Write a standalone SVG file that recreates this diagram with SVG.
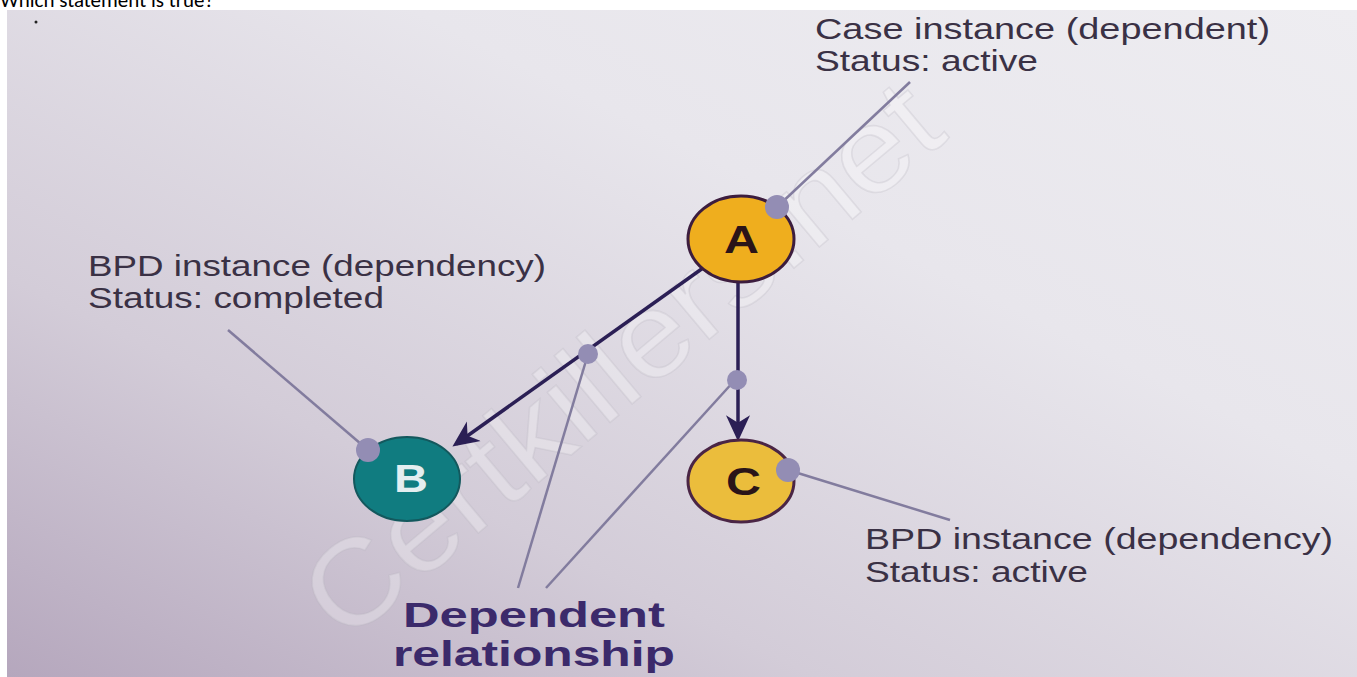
<svg xmlns="http://www.w3.org/2000/svg" width="1357" height="677" viewBox="0 0 1357 677">
  <defs>
    <linearGradient id="bg" x1="0" y1="1" x2="1" y2="0">
      <stop offset="0" stop-color="#b5a7bd"/>
      <stop offset="0.3" stop-color="#d3ccd8"/>
      <stop offset="0.65" stop-color="#e8e6ec"/>
      <stop offset="1" stop-color="#eeedf1"/>
    </linearGradient>
    <marker id="arr" viewBox="0 0 12 12" refX="10" refY="6" markerWidth="7.5" markerHeight="7.5" orient="auto" markerUnits="strokeWidth">
      <path d="M0,0.5 L12,6 L0,11.5 L3.5,6 Z" fill="#2b1f55"/>
    </marker>
    <style>
      .lbl { font-family: "Liberation Sans", Arial, sans-serif; font-size: 30px; fill: #3a3145; }
      .dep { font-family: "Liberation Sans", Arial, sans-serif; font-size: 35px; font-weight: bold; fill: #3b2a6b; }
      .lead { stroke: #827c9e; stroke-width: 2.5; fill: none; }
      .conn { stroke: #2b1f55; stroke-width: 3.5; fill: none; }
      .dot { fill: #938db4; }
      .letter { font-family: "Liberation Sans", Arial, sans-serif; font-size: 38px; font-weight: bold; }
      .wm { font-family: "Liberation Sans", Arial, sans-serif; font-size: 120px; fill: #ffffff; fill-opacity: 0.28; stroke: #b8b3bf; stroke-opacity: 0.28; stroke-width: 1.5; }
    </style>
  </defs>

  <rect x="0" y="0" width="1357" height="677" fill="#ffffff"/>
  <text x="0" y="7" font-family="Calibri, Carlito, 'Liberation Sans', sans-serif" font-size="21" fill="#000000">Which statement is true?</text>
  <rect x="7" y="10" width="1350" height="667" fill="url(#bg)"/>
  <circle cx="36" cy="22" r="1.5" fill="#222"/>

  <text class="wm" x="0" y="0" transform="translate(345,645) rotate(-40)" textLength="790" lengthAdjust="spacingAndGlyphs">Certkillers.net</text>

  <g id="connectors">
    <line class="lead" x1="910" y1="82" x2="777" y2="207"/>
    <line class="lead" x1="228" y1="330" x2="368" y2="450"/>
    <line class="lead" x1="788" y1="470" x2="950" y2="520"/>
    <line class="lead" x1="518" y1="588" x2="588" y2="354"/>
    <line class="lead" x1="546" y1="588" x2="735" y2="380"/>
    <line class="conn" x1="703" y1="268" x2="456" y2="444" marker-end="url(#arr)"/>
    <line class="conn" x1="738" y1="282" x2="738" y2="437" marker-end="url(#arr)"/>
    <circle class="dot" cx="588" cy="354" r="10"/>
    <circle class="dot" cx="737" cy="380" r="10"/>
  </g>

  <g id="node-A">
    <ellipse cx="741" cy="239" rx="53" ry="43" fill="#efae1e" stroke="#3c1d3e" stroke-width="3"/>
    <text class="letter" x="724" y="253" fill="#2a1418" textLength="35" lengthAdjust="spacingAndGlyphs">A</text>
    <circle class="dot" cx="777" cy="207" r="12"/>
  </g>

  <g id="node-B">
    <ellipse cx="407" cy="479" rx="53" ry="42" fill="#107c80" stroke="#13585d" stroke-width="2"/>
    <text class="letter" x="394" y="492" fill="#e4eef0" textLength="34" lengthAdjust="spacingAndGlyphs">B</text>
    <circle class="dot" cx="368" cy="450" r="12"/>
  </g>

  <g id="node-C">
    <ellipse cx="741" cy="481" rx="53" ry="41" fill="#ebbd3c" stroke="#4a2545" stroke-width="3"/>
    <text class="letter" x="726" y="495" fill="#2a1418" textLength="35" lengthAdjust="spacingAndGlyphs">C</text>
    <circle class="dot" cx="788" cy="470" r="12"/>
  </g>

  <g id="label-case">
    <text class="lbl" x="815" y="39" textLength="455" lengthAdjust="spacingAndGlyphs">Case instance (dependent)</text>
    <text class="lbl" x="815" y="71" textLength="223" lengthAdjust="spacingAndGlyphs">Status: active</text>
  </g>
  <g id="label-b">
    <text class="lbl" x="88" y="276" textLength="458" lengthAdjust="spacingAndGlyphs">BPD instance (dependency)</text>
    <text class="lbl" x="88" y="308" textLength="296" lengthAdjust="spacingAndGlyphs">Status: completed</text>
  </g>
  <g id="label-c">
    <text class="lbl" x="865" y="549" textLength="468" lengthAdjust="spacingAndGlyphs">BPD instance (dependency)</text>
    <text class="lbl" x="865" y="582" textLength="223" lengthAdjust="spacingAndGlyphs">Status: active</text>
  </g>
  <g id="label-dep">
    <text class="dep" x="403" y="627" textLength="262" lengthAdjust="spacingAndGlyphs">Dependent</text>
    <text class="dep" x="393" y="666" textLength="282" lengthAdjust="spacingAndGlyphs">relationship</text>
  </g>
</svg>
